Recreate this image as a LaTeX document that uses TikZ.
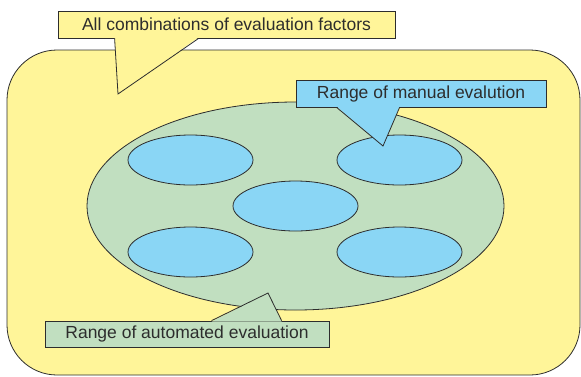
\documentclass[tikz,border=0pt]{standalone}
\usepackage{fontspec}
\setmainfont{Liberation Sans}
\usetikzlibrary{shapes.geometric}

\definecolor{factorYellow}{RGB}{255,245,153}
\definecolor{autoGreen}{RGB}{193,223,192}
\definecolor{manualBlue}{RGB}{138,214,245}
\definecolor{edgeGray}{RGB}{45,45,45}

\tikzset{
    outline/.style={draw=edgeGray, line width=0.8pt},
    field/.style={outline, fill=factorYellow, rounded corners=50pt},
    autorange/.style={ellipse, outline, fill=autoGreen, inner sep=0, minimum width=417pt, minimum height=208pt},
    manrange/.style={ellipse, outline, fill=manualBlue, inner sep=0, minimum width=125pt, minimum height=50pt},
    callbox/.style={rectangle, outline, inner sep=0, minimum height=27pt, text=edgeGray, font=\fontsize{17.5}{21}\selectfont}
    }

\begin{document}
\begin{tikzpicture}[x=1pt, y=-1pt]
                \useasboundingbox (0,0) rectangle (581,376);
                % The field of all combinations
                \draw[field] (7,50) rectangle (580,375);
                % The ranges
                \node(auto)[autorange] at (295.5,206) {};
                \node(m1)[manrange] at (190.5,160) {};
                \node(m2)[manrange] at (399.5,160) {};
                \node(m3)[manrange] at (295.5,206) {};
                \node(m4)[manrange] at (190.5,252) {};
                \node(m5)[manrange] at (399.5,252) {};
                % The callouts
                \node(fac)[callbox, fill=factorYellow, minimum width=337pt] at (226.5,24.5) {All combinations of evaluation factors};
                \coordinate(facTip) at (118,94);
                \fill[factorYellow] ([xshift=57pt,yshift=1pt]fac.south west) -- (facTip) -- ([xshift=141pt,yshift=1pt]fac.south west) -- cycle;
                \draw[outline] ([xshift=57pt]fac.south west) -- (facTip) -- ([xshift=141pt]fac.south west);

                \node(man)[callbox, fill=manualBlue, minimum width=250pt] at (421,93.5) {Range of manual evalution};
                \coordinate(manTip) at (383,146);
                \fill[manualBlue] ([xshift=41pt,yshift=1pt]man.south west) -- (manTip) -- ([xshift=104pt,yshift=1pt]man.south west) -- cycle;
                \draw[outline] ([xshift=41pt]man.south west) -- (manTip) -- ([xshift=104pt]man.south west);

                \node(aut)[callbox, fill=autoGreen, minimum width=284pt, minimum height=26pt] at (187,334) {Range of automated evaluation};
                \coordinate(autTip) at (268,293);
                \fill[autoGreen] ([xshift=167pt,yshift=-1pt]aut.north west) -- (autTip) -- ([xshift=237pt,yshift=-1pt]aut.north west) -- cycle;
                \draw[outline] ([xshift=167pt]aut.north west) -- (autTip) -- ([xshift=237pt]aut.north west);
            \end{tikzpicture}
\end{document}
